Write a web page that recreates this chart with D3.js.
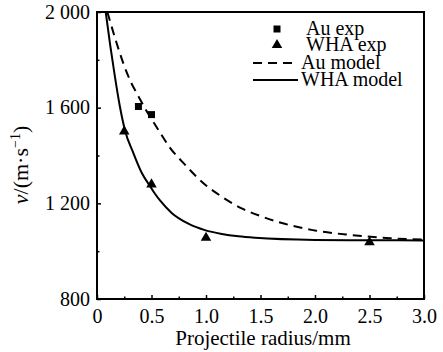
<!DOCTYPE html>
<html>
<head>
<meta charset="utf-8">
<script src="https://cdn.jsdelivr.net/npm/d3@7"></script>
<style>
  body { margin: 0; background: #fff; }
  svg { display: block; font-family: "Liberation Serif", "Times New Roman", serif; }
  .axis text { font-size: 20px; fill: #000; font-family: "Liberation Serif", "Times New Roman", serif; }
  .axis line { stroke: #000; stroke-width: 1.5; }
  .axis path { display: none; }
</style>
</head>
<body>
<svg></svg>
<script>
// values
const auExpX = [0.38, 0.50]
const auExpY = [1605, 1571]
const whaExpX = [0.25, 0.50, 1.00, 2.50]
const whaExpY = [1501, 1279, 1056, 1037]

const auModelX = [0.095, 0.165, 0.241, 0.318, 0.364, 0.456, 0.562, 0.67, 0.79, 0.99, 1.144, 1.327, 1.511, 1.679, 1.98, 2.32, 2.69, 3.0]
const auModelY = [2000, 1892, 1786, 1700, 1661, 1585, 1508, 1432, 1370, 1279, 1228, 1179, 1145, 1120, 1088, 1068, 1054, 1048]
const whaModelX = [0.08, 0.12, 0.165, 0.21, 0.257, 0.333, 0.41, 0.486, 0.532, 0.578, 0.685, 0.838, 0.99, 1.144, 1.297, 1.45, 2.0, 2.5, 3.0]
const whaModelY = [2000, 1865, 1728, 1605, 1505, 1411, 1328, 1272, 1240, 1212, 1160, 1115, 1088, 1072, 1062, 1056, 1047, 1045.5, 1045]

const xMajor = [0, 0.5, 1.0, 1.5, 2.0, 2.5, 3.0]
const xMinor = [0.25, 0.75, 1.25, 1.75, 2.25, 2.75]
const yMajor = [800, 1200, 1600, 2000]
const yMinor = [1000, 1400, 1800]

const legendNames = ["Au exp", "WHA exp", "Au model", "WHA model"]

const width = 443, height = 352
const margin = { top: 12, right: 19, bottom: 53, left: 97 }

const svg = d3.select('svg').attr("width", width).attr("height", height)

const x = d3.scaleLinear().domain([0, 3]).range([margin.left, width - margin.right])
const y = d3.scaleLinear().domain([800, 2000]).range([height - margin.bottom, margin.top])

const fmtY = d => d >= 1000 ? d3.format(",")(d).replace(",", " ") : String(d)
const fmtX = d => d === 0 ? "0" : d3.format(".1f")(d)

// Axes with inward ticks
svg.append("g").attr("class", "axis")
    .attr("transform", `translate(0, ${y(800)})`)
    .call(d3.axisBottom(x).tickValues(xMajor).tickSize(-4).tickPadding(10).tickFormat(fmtX))
svg.append("g").attr("class", "axis")
    .attr("transform", `translate(0, ${y(800)})`)
    .call(d3.axisBottom(x).tickValues(xMinor).tickSize(-2.5).tickFormat(""))

svg.append("g").attr("class", "axis")
    .attr("transform", `translate(${x(0)}, 0)`)
    .call(d3.axisLeft(y).tickValues(yMajor).tickSize(-4).tickPadding(7).tickFormat(fmtY))
    .call(g => g.selectAll("text").attr("dy", "0.3em"))
svg.append("g").attr("class", "axis")
    .attr("transform", `translate(${x(0)}, 0)`)
    .call(d3.axisLeft(y).tickValues(yMinor).tickSize(-2.5).tickFormat(""))

// Frame
svg.append("rect")
    .attr("x", x(0)).attr("y", y(2000))
    .attr("width", x(3) - x(0)).attr("height", y(800) - y(2000))
    .attr("fill", "none").attr("stroke", "#000").attr("stroke-width", 2)

// Axis labels
svg.append("text")
    .attr("x", 263).attr("y", 345)
    .attr("text-anchor", "middle").attr("font-size", 21)
    .text("Projectile radius/mm")

const yLabel = svg.append("text")
    .attr("transform", `translate(28, 165) rotate(-90)`)
    .attr("text-anchor", "middle").attr("font-size", 22)
yLabel.append("tspan").attr("font-style", "italic").text("v")
yLabel.append("tspan").text("/(m·s")
yLabel.append("tspan").attr("font-size", 14).attr("dy", "-0.55em").text("−1")
yLabel.append("tspan").attr("dy", "0.35em").text(")")

// Model curves
svg.append("clipPath").attr("id", "plot")
    .append("rect").attr("x", x(0)).attr("y", y(2000))
    .attr("width", x(3) - x(0)).attr("height", y(800) - y(2000))

const lineGen = d3.line().x(d => x(d[0])).y(d => y(d[1])).curve(d3.curveMonotoneX)

const curves = svg.append("g").attr("clip-path", "url(#plot)")
curves.append("path")
    .attr("d", lineGen(d3.zip(auModelX, auModelY)))
    .attr("fill", "none").attr("stroke", "#000").attr("stroke-width", 2)
    .attr("stroke-dasharray", "9,6")
curves.append("path")
    .attr("d", lineGen(d3.zip(whaModelX, whaModelY)))
    .attr("fill", "none").attr("stroke", "#000").attr("stroke-width", 2)

// Experimental points
const square = d3.symbol().type(d3.symbolSquare).size(49)
const triangle = d3.symbol().type(d3.symbolTriangle).size(48)

svg.append("g").selectAll("path")
    .data(d3.zip(auExpX, auExpY))
    .join("path")
    .attr("transform", d => `translate(${x(d[0])}, ${y(d[1])})`)
    .attr("d", square)
svg.append("g").selectAll("path")
    .data(d3.zip(whaExpX, whaExpY))
    .join("path")
    .attr("transform", d => `translate(${x(d[0])}, ${y(d[1])})`)
    .attr("d", triangle)

// Legend
const legend = svg.append("g").attr("font-size", 20)
const rowY = [29, 45, 63, 80]
legend.append("path").attr("transform", `translate(277, ${rowY[0]})`).attr("d", square)
legend.append("path").attr("transform", `translate(277, ${rowY[1]})`).attr("d", triangle)
legend.append("line").attr("x1", 253).attr("x2", 297).attr("y1", rowY[2]).attr("y2", rowY[2])
    .attr("stroke", "#000").attr("stroke-width", 2).attr("stroke-dasharray", "9,6")
legend.append("line").attr("x1", 253).attr("x2", 298).attr("y1", rowY[3]).attr("y2", rowY[3])
    .attr("stroke", "#000").attr("stroke-width", 2)
legend.selectAll("text")
    .data(legendNames)
    .join("text")
    .attr("x", (d, i) => i < 2 ? 306 : 301)
    .attr("y", (d, i) => rowY[i] + 6)
    .text(d => d)
</script>
</body>
</html>
